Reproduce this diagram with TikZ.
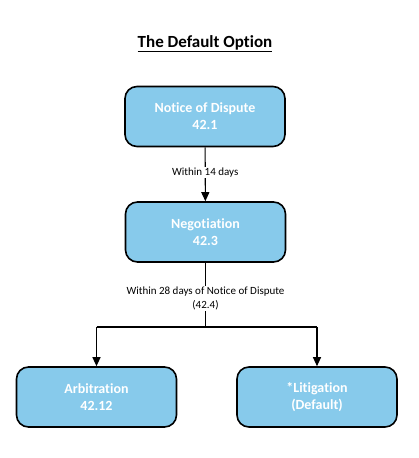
\documentclass[tikz,border=0pt]{standalone}
\usepackage{fontspec}
\setmainfont[Ligatures={NoCommon,NoContextual,NoRequired},Contextuals=NoAlternate]{Carlito}
\usetikzlibrary{arrows.meta,calc}
\definecolor{boxblue}{RGB}{135,202,235}
\tikzset{
  stepbox/.style={draw=black, line width=1.6pt, fill=boxblue, rounded corners=12pt,
    minimum width=160pt, minimum height=60pt, align=center, text=white,
    font=\fontsize{14}{17}\selectfont\bfseries},
  conn/.style={line width=1.1pt, -{Triangle[length=9pt,width=8pt]}},
  plainconn/.style={line width=1.1pt},
  lbl/.style={fill=white, inner sep=1pt, align=center, font=\fontsize{11}{14}\selectfont}
}
\begin{document}
\begin{tikzpicture}[x=1pt,y=1pt]
\useasboundingbox (0,0) rectangle (418,458);
\node[inner sep=0pt, font=\fontsize{17}{20}\selectfont\bfseries] (title) at (205,415) {The Default Option};
\draw[line width=1.2pt] ($(title.base west)+(0,-4)$) -- ($(title.base east)+(0,-4)$);
\node[stepbox] (notice) at (205,341.5) {Notice of Dispute\\42.1};
\node[stepbox] (nego) at (205.5,226) {Nego\kern0pt tiation\\42.3};
\node[stepbox] (arb) at (96.5,61) {Arbitration\\42.12};
\node[stepbox] (lit) at (317,61) {*Litiga\kern0pt tion\\(Default)};
\coordinate (j) at (205.5,131);
\coordinate (jl) at (96.5,131);
\coordinate (jr) at (317,131);
\draw[conn] (notice) -- node[lbl, pos=0.47] (l1) {Within 14 days} (nego);
\draw[plainconn] (nego) -- node[lbl, pos=0.55] (l2) {Within 28 days of Notice of Dispute\\(42.4)} (j);
\draw[plainconn] (jl) -- (jr);
\draw[conn] (jl) -- (arb);
\draw[conn] (jr) -- (lit);
\end{tikzpicture}
\end{document}
